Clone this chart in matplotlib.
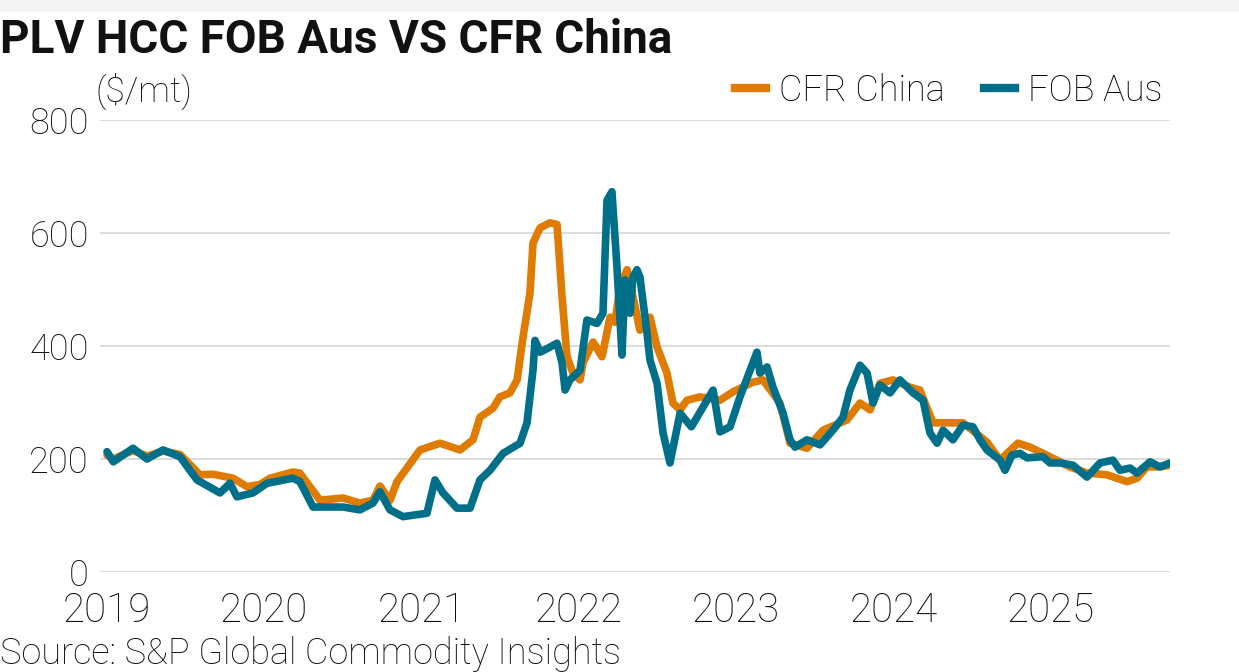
import matplotlib
matplotlib.use("Agg")
import matplotlib.pyplot as plt
from matplotlib.patches import Rectangle
from matplotlib.lines import Line2D

# PLV HCC prices, decimal year vs $/mt
cfr_t = [2019.00, 2019.04, 2019.165, 2019.254, 2019.356, 2019.464, 2019.591, 2019.674,
         2019.801, 2019.890, 2019.973, 2020.036, 2020.182, 2020.226, 2020.354, 2020.500,
         2020.608, 2020.691, 2020.735, 2020.799, 2020.844, 2020.990, 2021.117, 2021.244,
         2021.327, 2021.371, 2021.454, 2021.498, 2021.562, 2021.607, 2021.645, 2021.689,
         2021.708, 2021.753, 2021.816, 2021.861, 2021.893, 2021.924, 2021.962, 2022.007,
         2022.026, 2022.090, 2022.147, 2022.198, 2022.229, 2022.261, 2022.306, 2022.344,
         2022.388, 2022.452, 2022.497, 2022.560, 2022.598, 2022.643, 2022.687, 2022.770,
         2022.897, 2022.980, 2023.107, 2023.170, 2023.278, 2023.342, 2023.450, 2023.552,
         2023.704, 2023.787, 2023.851, 2023.914, 2023.997, 2024.105, 2024.168, 2024.251,
         2024.359, 2024.442, 2024.594, 2024.677, 2024.722, 2024.791, 2024.868, 2024.995,
         2025.122, 2025.230, 2025.357, 2025.484, 2025.548, 2025.611, 2025.694, 2025.758]
cfr_v = [207, 200, 215, 205, 214, 208, 172, 173,
         166, 151, 155, 166, 177, 175, 127, 131,
         122, 127, 152, 127, 160, 216, 228, 216,
         234, 274, 290, 310, 317, 340, 416, 494,
         582, 609, 618, 615, 487, 381, 352, 340,
         370, 407, 381, 451, 442, 504, 535, 487,
         428, 451, 398, 352, 299, 287, 304, 310,
         304, 319, 336, 340, 299, 228, 219, 251,
         269, 299, 287, 334, 340, 327, 322, 264,
         264, 264, 230, 198, 210, 228, 221, 204,
         186, 175, 172, 160, 166, 186, 186, 189]

fob_t = [2019.00, 2019.04, 2019.165, 2019.254, 2019.356, 2019.464, 2019.572, 2019.718,
         2019.782, 2019.826, 2019.928, 2020.017, 2020.182, 2020.226, 2020.310, 2020.399,
         2020.500, 2020.608, 2020.691, 2020.735, 2020.799, 2020.882, 2021.034, 2021.085,
         2021.136, 2021.225, 2021.308, 2021.371, 2021.435, 2021.518, 2021.626, 2021.670,
         2021.708, 2021.721, 2021.753, 2021.816, 2021.861, 2021.893, 2021.912, 2021.943,
         2022.007, 2022.051, 2022.115, 2022.153, 2022.179, 2022.210, 2022.242, 2022.274,
         2022.293, 2022.325, 2022.344, 2022.369, 2022.388, 2022.433, 2022.452, 2022.497,
         2022.535, 2022.579, 2022.643, 2022.715, 2022.853, 2022.897, 2022.961, 2023.024,
         2023.132, 2023.151, 2023.196, 2023.234, 2023.298, 2023.342, 2023.374, 2023.450,
         2023.533, 2023.615, 2023.679, 2023.723, 2023.787, 2023.832, 2023.870, 2023.914,
         2023.978, 2024.041, 2024.124, 2024.188, 2024.232, 2024.277, 2024.315, 2024.378,
         2024.442, 2024.505, 2024.550, 2024.594, 2024.677, 2024.709, 2024.753, 2024.804,
         2024.849, 2024.950, 2024.995, 2025.059, 2025.141, 2025.230, 2025.313, 2025.395,
         2025.440, 2025.504, 2025.548, 2025.631, 2025.694, 2025.758]
fob_v = [213, 195, 219, 200, 216, 204, 163, 140,
         157, 133, 140, 157, 166, 160, 115, 115,
         115, 110, 122, 142, 110, 98, 104, 163,
         140, 113, 113, 163, 180, 210, 228, 264,
         357, 410, 389, 398, 405, 370, 322, 340,
         357, 446, 440, 458, 658, 673, 540, 384,
         517, 458, 522, 535, 522, 423, 375, 334,
         246, 193, 281, 257, 322, 248, 257, 310,
         389, 352, 363, 327, 281, 234, 221, 234,
         225, 251, 274, 322, 366, 352, 299, 331,
         317, 340, 317, 304, 246, 228, 251, 234,
         260, 257, 234, 216, 198, 180, 207, 210,
         202, 204, 193, 193, 189, 168, 193, 198,
         180, 184, 175, 195, 186, 193]

years = [2019, 2020, 2021, 2022, 2023, 2024, 2025]
yticks = [0, 200, 400, 600, 800]

orange = "#DE7B00"
teal = "#00708A"
font = "Roboto"

plt.rcParams["font.family"] = [font, "DejaVu Sans"]

fig = plt.figure(figsize=(12.39, 6.72), dpi=100)
fig.patch.set_facecolor("white")
fig.add_artist(Rectangle((0, 1 - 12 / 672), 1, 12 / 672, transform=fig.transFigure,
                         facecolor="#f4f4f4", edgecolor="none"))

ax = fig.add_axes([100 / 1239, 1 - 572 / 672, 1070 / 1239, 452 / 672])
ax.plot(cfr_t, cfr_v, color=orange, lw=5.5, solid_joinstyle="round", solid_capstyle="round", zorder=3)
ax.plot(fob_t, fob_v, color=teal, lw=5.5, solid_joinstyle="round", solid_capstyle="round", zorder=4)

ax.set_xlim(2019 - 7 / 157.3, 2019 + 1063 / 157.3)
ax.set_ylim(0, 800)
ax.set_xticks(years)
ax.set_xticklabels([str(y) for y in years])
ax.set_yticks(yticks)
ax.grid(axis="y", color="#d6d6d6", lw=1.2)
ax.set_axisbelow(True)
for s in ax.spines.values():
    s.set_visible(False)
ax.tick_params(axis="both", length=0)
ax.tick_params(axis="x", labelsize=29, pad=14)
ax.tick_params(axis="y", labelsize=26, pad=8)
for lab in ax.get_xticklabels() + ax.get_yticklabels():
    lab.set_fontweight("light")
    lab.set_color("#111111")

fig.text(0, 1 - 40 / 672, "PLV HCC FOB Aus VS CFR China", fontsize=33, fontweight="bold",
         va="center", ha="left", color="#111111")
fig.text(95 / 1239, 1 - 91 / 672, "($/mt)", fontsize=25.5, fontweight="light",
         va="center", ha="left", color="#111111")
fig.text(0, 1 - 654 / 672, "Source: S&P Global Commodity Insights", fontsize=26,
         fontweight="light", va="center", ha="left", color="#111111")

handles = [Line2D([], [], color=orange, lw=6), Line2D([], [], color=teal, lw=6)]
leg = fig.legend(handles, ["CFR China", "FOB Aus"], loc="center right",
                 bbox_to_anchor=(1162 / 1239, 1 - 91 / 672), ncol=2, frameon=False,
                 fontsize=26, handlelength=0.85, handletextpad=0.35, columnspacing=1.1,
                 borderpad=0, borderaxespad=0)
for t in leg.get_texts():
    t.set_fontweight("light")

fig.savefig("out.png", dpi=100)
